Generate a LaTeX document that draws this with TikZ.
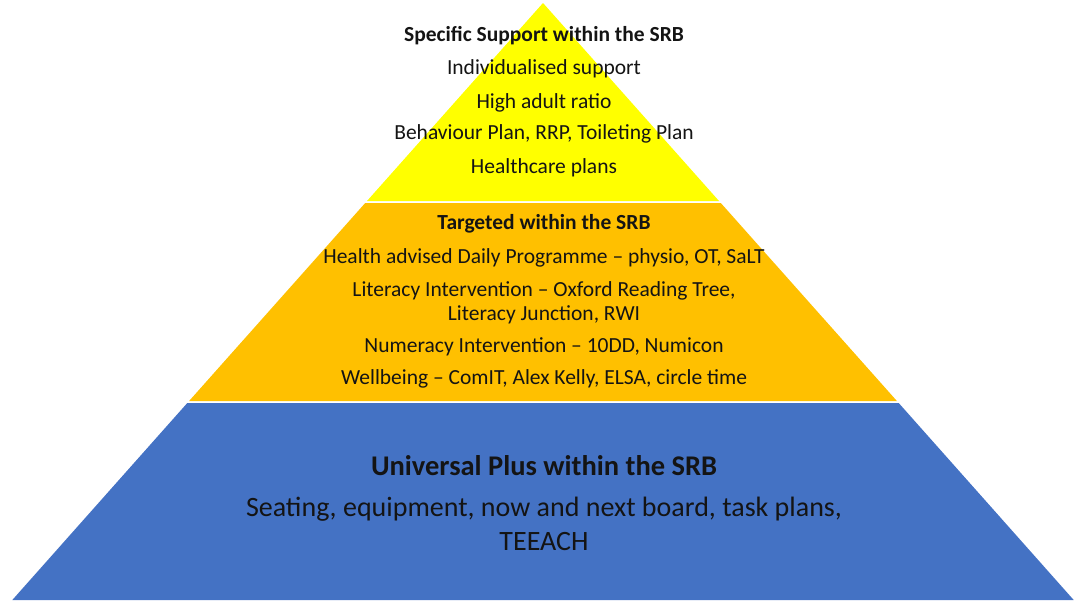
\documentclass[tikz,border=0pt]{standalone}
\usepackage{fontspec}
\setmainfont{Carlito}
\usetikzlibrary{positioning}
\definecolor{tieryellow}{RGB}{255,255,0}
\definecolor{tierorange}{RGB}{255,192,0}
\definecolor{tierblue}{RGB}{68,114,196}
\definecolor{inktext}{RGB}{20,20,20}

\begin{document}
\begin{tikzpicture}[x=1pt, y=-1pt,
    tierline/.style={text=inktext, inner sep=0pt, font=\fontsize{21.5}{24}\selectfont},
    bigline/.style={text=inktext, inner sep=0pt, font=\fontsize{28}{32}\selectfont}]
    \useasboundingbox (0,0) rectangle (1074,603);

    \fill[tieryellow] (543,3) -- (719,201) -- (367,201) -- cycle;
    \fill[tierorange] (365.2,203) -- (720.8,203) -- (896.9,401) -- (189.1,401) -- cycle;
    \fill[tierblue] (187.3,403) -- (898.7,403) -- (1073.7,600) -- (12.3,600) -- cycle;

    \foreach \y/\t [count=\i] in {36/{\textbf{Specific Support within the SRB}},
        69/{Individualised support}, 103/{High adult ratio},
        134/{Behaviour Plan, RRP, Toileting Plan}, 168/{Healthcare plans}} {
        \node[tierline] (top\i) at (544,\y) {\t};
    }

    \foreach \y/\t [count=\i] in {224/{\textbf{Targeted within the SRB}},
        258/{Health advised Daily Programme – physio, OT, SaLT},
        291/{Literacy Intervention – Oxford Reading Tree,},
        315/{Literacy Junction, RWI},
        347/{Numeracy Intervention – 10DD, Numicon},
        379/{Wellbeing – ComIT, Alex Kelly, ELSA, circle time}} {
        \node[tierline] (mid\i) at (544,\y) {\t};
    }

    \foreach \y/\t [count=\i] in {466/{\fontsize{28.5}{32}\selectfont\textbf{Universal Plus within the SRB}},
        509/{Seating, equipment, now and next board, task plans,},
        542/{TEEACH}} {
        \node[bigline] (base\i) at (544,\y) {\t};
    }
\end{tikzpicture}
\end{document}
